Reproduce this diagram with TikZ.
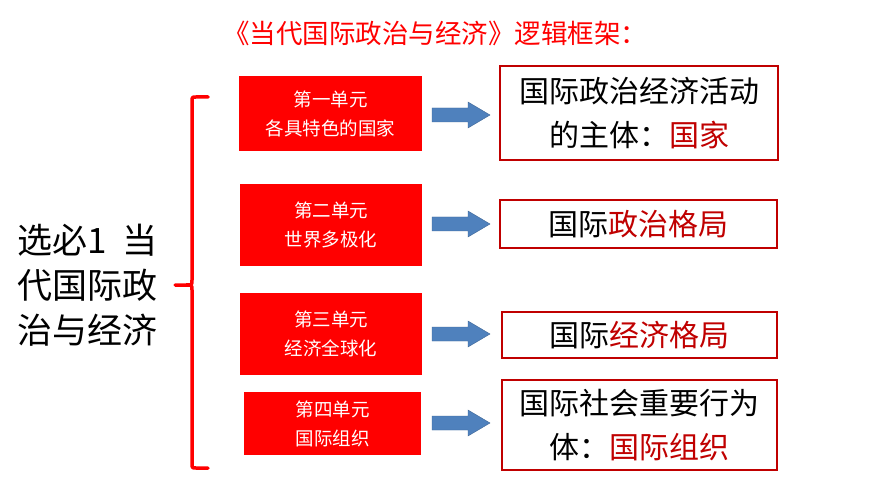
\documentclass[tikz,border=0pt]{standalone}
\usepackage{fontspec}
\newfontfamily\cjk{Noto Sans CJK SC}
\definecolor{cred}{RGB}{255,0,0}
\definecolor{dred}{RGB}{192,0,0}
\definecolor{ablue}{RGB}{79,129,189}
\begin{document}
\begin{tikzpicture}[x=1pt,y=-1pt,
  unitbox/.style={fill=cred,text=white,align=center,font=\cjk\fontsize{18.5}{29}\selectfont,inner sep=0pt},
  resbox/.style={draw=dred,line width=1.5pt,fill=white,align=center,font=\cjk\fontsize{30}{44}\selectfont,inner sep=0pt},
  barrow/.style={fill=ablue,draw=ablue!80!black,line width=0.4pt}]
\useasboundingbox (0,0) rectangle (870,489);
\fill[white] (0,0) rectangle (870,489);
\node[font=\cjk\fontsize{26.5}{30}\selectfont,text=cred] (title) at (435,33) {《当代国际政治与经济》逻辑框架：};
\node[font=\cjk\fontsize{35}{45}\selectfont,align=left,anchor=west] (left) at (14,285) {选必1\ \ 当\\代国际政\\治与经济};
% units
\node[unitbox,minimum width=183pt,minimum height=75pt] (u1) at (330.5,113.5) {第一单元\\各具特色的国家};
\node[unitbox,minimum width=182pt,minimum height=82pt] (u2) at (331,225) {第二单元\\世界多极化};
\node[unitbox,minimum width=182pt,minimum height=82pt] (u3) at (331,334) {第三单元\\经济全球化};
\node[unitbox,minimum width=177pt,minimum height=63pt] (u4) at (332.5,423.5) {第四单元\\国际组织};
% results
\node[resbox,minimum width=278pt,minimum height=94pt] (r1) at (639,113) {国际政治经济活动\\的主体：\textcolor{dred}{国家}};
\node[resbox,minimum width=277pt,minimum height=48pt] (r2) at (638.5,224) {国际\textcolor{dred}{政治格局}};
\node[resbox,minimum width=275pt,minimum height=46pt] (r3) at (639.5,335) {国际\textcolor{dred}{经济格局}};
\node[resbox,minimum width=275pt,minimum height=90pt] (r4) at (639.5,425) {国际社会重要行为\\体：\textcolor{dred}{国际组织}};
% arrows
\foreach \n/\y in {a1/115,a2/224,a3/334,a4/423}{
  \coordinate (\n) at (461,\y);
  \draw[barrow] ([shift={(-29,-7)}]\n) -- ++(36,0) -- ++(0,-6) -- ([shift={(29,0)}]\n) -- ([shift={(7,13)}]\n) -- ++(0,-6) -- ++(-36,0) -- cycle;
}
% brace
\coordinate (bt) at (208,97);
\coordinate (bb) at (208,468);
\coordinate (bm) at (175,285);
\draw[cred,line width=3.5pt,line cap=round,line join=round]
  (bt) -- (196,97) .. controls (192,97) .. (192,102) -- (192,280) .. controls (192,285) .. (186,285) -- (bm)
  (186,285) .. controls (192,285) .. (192,290) -- (192,463) .. controls (192,468) .. (196,468) -- (bb);
\end{tikzpicture}
\end{document}
